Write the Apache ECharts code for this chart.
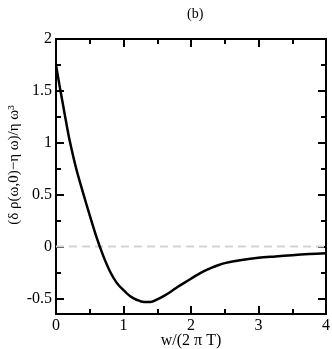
<!DOCTYPE html>
<html><head><meta charset="utf-8">
<script src="https://cdn.jsdelivr.net/npm/echarts@6/dist/echarts.min.js"></script>
<style>html,body{margin:0;padding:0;background:#fff}#c{width:332px;height:349px}</style>
</head><body><div id="c"></div>
<script>
var xValues = [0, 0.05, 0.1, 0.15, 0.2, 0.3, 0.4, 0.5, 0.6, 0.7, 0.8, 0.9, 1.0, 1.1, 1.2, 1.3, 1.4, 1.5, 1.6, 1.7, 1.8, 1.9, 2.0, 2.1, 2.2, 2.3, 2.4, 2.5, 2.75, 3.0, 3.25, 3.5, 3.75, 4.0];
var yValues = [1.75, 1.56, 1.38, 1.2, 1.03, 0.75, 0.52, 0.30, 0.09, -0.09, -0.24, -0.35, -0.42, -0.48, -0.515, -0.535, -0.535, -0.51, -0.475, -0.435, -0.39, -0.35, -0.31, -0.27, -0.235, -0.205, -0.18, -0.16, -0.13, -0.108, -0.095, -0.083, -0.072, -0.064];
var zeroLineX = [0, 4];
var zeroLineY = [0, 0];
var yMajorTicks = [-0.5, 0, 0.5, 1, 1.5, 2];
var yMinorTicks = [-0.25, 0.25, 0.75, 1.25, 1.75];
var titleText = '(b)';
var xName = 'w/(2 \u03c0 T)';
var yName = '(\u03b4 \u03c1(\u03c9,0)\u2212\u03b7 \u03c9)/\u03b7 \u03c9\u00b3';

var font = 'Liberation Serif';
var axisLine = {show: true, onZero: false, lineStyle: {color: '#000', width: 2}};
function yAx(pos, ticks, len, labels) {
  return {
    type: 'value', min: -0.65, max: 2, position: pos,
    axisLine: axisLine, splitLine: {show: false},
    axisTick: {show: true, inside: true, length: len, customValues: ticks, lineStyle: {color: '#000', width: 2}},
    axisLabel: labels ? {show: true, customValues: ticks, margin: 4, color: '#000', fontFamily: font, fontSize: 16} : {show: false}
  };
}
function xAx(pos, labels) {
  return {
    type: 'value', min: 0, max: 4, interval: 1, position: pos,
    axisLine: axisLine, splitLine: {show: false},
    axisTick: {show: true, inside: true, length: 8, lineStyle: {color: '#000', width: 2}},
    minorTick: {show: true, splitNumber: 2, length: 5, lineStyle: {color: '#000', width: 2}},
    axisLabel: labels ? {show: true, margin: 4, color: '#000', fontFamily: font, fontSize: 16} : {show: false}
  };
}
var chart = echarts.init(document.getElementById('c'));
chart.setOption({
  animation: false,
  title: {text: titleText, left: 182, top: 2,
    textStyle: {fontFamily: font, fontSize: 14, fontWeight: 'normal', color: '#000'}},
  grid: {left: 56, right: 6, top: 39, bottom: 35, outerBoundsMode: 'none', containLabel: false},
  xAxis: [xAx('bottom', true), xAx('top', false)],
  yAxis: [yAx('left', yMajorTicks, 8, true), yAx('left', yMinorTicks, 5, false),
          yAx('right', yMajorTicks, 8, false), yAx('right', yMinorTicks, 5, false)],
  graphic: [
    {type: 'text', x: 191, y: 341, style: {text: xName, fontFamily: font, fontSize: 16, fill: '#000', align: 'center', verticalAlign: 'middle'}},
    {type: 'text', x: 14, y: 165, rotation: Math.PI / 2, style: {text: yName, fontFamily: font, fontSize: 15, fill: '#000', align: 'center', verticalAlign: 'middle'}}
  ],
  series: [
    {type: 'line', data: zeroLineX.map(function (x, i) { return [x, zeroLineY[i]]; }),
     symbol: 'none', lineStyle: {color: '#d3d3d3', width: 2, type: [8, 5]}, z: 1},
    {type: 'line', data: xValues.map(function (x, i) { return [x, yValues[i]]; }),
     symbol: 'none', smooth: 0.3, lineStyle: {color: '#000', width: 2.5}, z: 3}
  ]
});
</script></body></html>
